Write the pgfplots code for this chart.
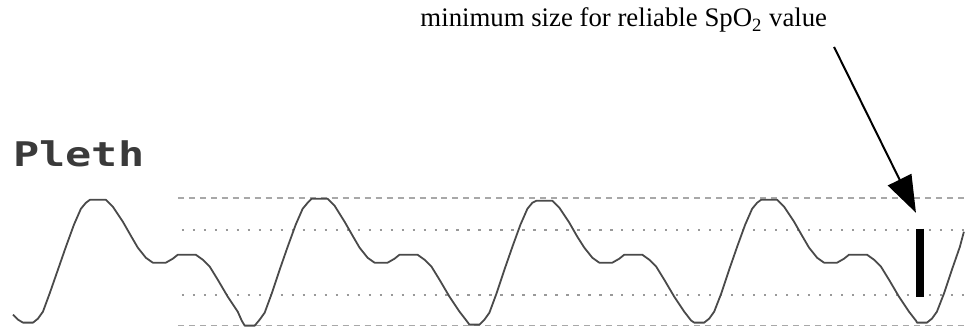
\documentclass[border=0pt]{standalone}
\usepackage{fontspec}
\setmainfont{Liberation Serif}
\newfontfamily\plethfont{DejaVu Sans Mono}[FakeStretch=1.28]
\usepackage{pgfplots}
\pgfplotsset{compat=1.18}
\usetikzlibrary{arrows.meta}
\definecolor{wave}{HTML}{4A4A4A}
\definecolor{gridc}{HTML}{A8A8A8}
\definecolor{dotc}{HTML}{999999}
\definecolor{labelc}{HTML}{3A3A3A}
\begin{document}
\begin{tikzpicture}
\begin{axis}[width=482.5pt,height=166pt,scale only axis,
  xmin=0,xmax=965,ymin=0,ymax=332,y dir=reverse,hide axis,clip=false]
\path (axis cs:0,0) rectangle (axis cs:965,332);
% reference lines
\addplot[gridc,line width=0.8pt,dash pattern=on 3pt off 2.5pt] coordinates {(178,198) (965,198)};
\addplot[gridc,line width=0.8pt,dash pattern=on 3pt off 2.5pt] coordinates {(178,326) (965,326)};
\addplot[dotc,line width=1.1pt,dash pattern=on 1.1pt off 4.4pt] coordinates {(182,230) (965,230)};
\addplot[dotc,line width=1.1pt,dash pattern=on 1.1pt off 4.4pt] coordinates {(182,295) (965,295)};
% pleth waveform
\addplot[wave,line width=0.9pt,line join=round] coordinates {
(13,315) (18,320) (23,323) (33,323) (38,319) (43,312) (50,293) (58,270) (66,247) (74,225) (81,209) (86,203) (90,200) (106,200) (113,207) (123,222) (131,236) (138,248) (146,258) (153,263) (166,263) (173,259) (178,255) (196,255) (203,260) (210,267) (218,280) (228,297) (238,312) (242,321)
(245,326) (255,326) (260,320) (265,313) (272,294) (280,270) (288,247) (296,225) (303,209) (308,203) (312,199) (328,199) (335,206) (345,222) (353,236) (360,248) (368,258) (375,263) (388,263) (395,259) (400,255) (418,255) (425,260) (432,267) (440,280) (450,297) (460,312) (467,321)
(470,325) (480,325) (485,320) (490,313) (497,294) (505,270) (513,247) (521,225) (528,209) (533,203) (537,201) (553,201) (560,208) (570,223) (578,237) (585,248) (593,258) (600,263) (613,263) (620,259) (625,255) (643,255) (650,260) (657,267) (665,280) (675,297) (685,312) (692,321)
(695,323) (705,323) (710,319) (715,312) (722,294) (730,270) (738,247) (746,225) (753,209) (758,203) (762,200) (778,200) (785,207) (795,222) (803,236) (810,248) (818,258) (825,263) (838,263) (845,259) (850,255) (868,255) (875,260) (882,267) (890,280) (900,297) (910,312) (917,321)
(918,323) (928,323) (933,319) (938,312) (945,294) (953,270) (961,247) (965,232)
};
% minimum size bar
\addplot[black,line width=4pt,line cap=butt] coordinates {(921,229) (921,297)};
% arrow
\addplot[black,line width=1pt,-{Triangle[length=18.5pt,width=13pt]}] coordinates {(835,47) (917,213)};
\node[anchor=base,inner sep=0pt,font=\fontsize{13.4pt}{15pt}\selectfont] at (axis cs:624.5,27) {minimum size for reliable SpO\textsubscript{2} value};
\node[anchor=base west,inner sep=0pt,text=labelc,font=\plethfont\bfseries\fontsize{17pt}{18pt}\selectfont] at (axis cs:13,167) {Pleth};
\end{axis}
\end{tikzpicture}
\end{document}
